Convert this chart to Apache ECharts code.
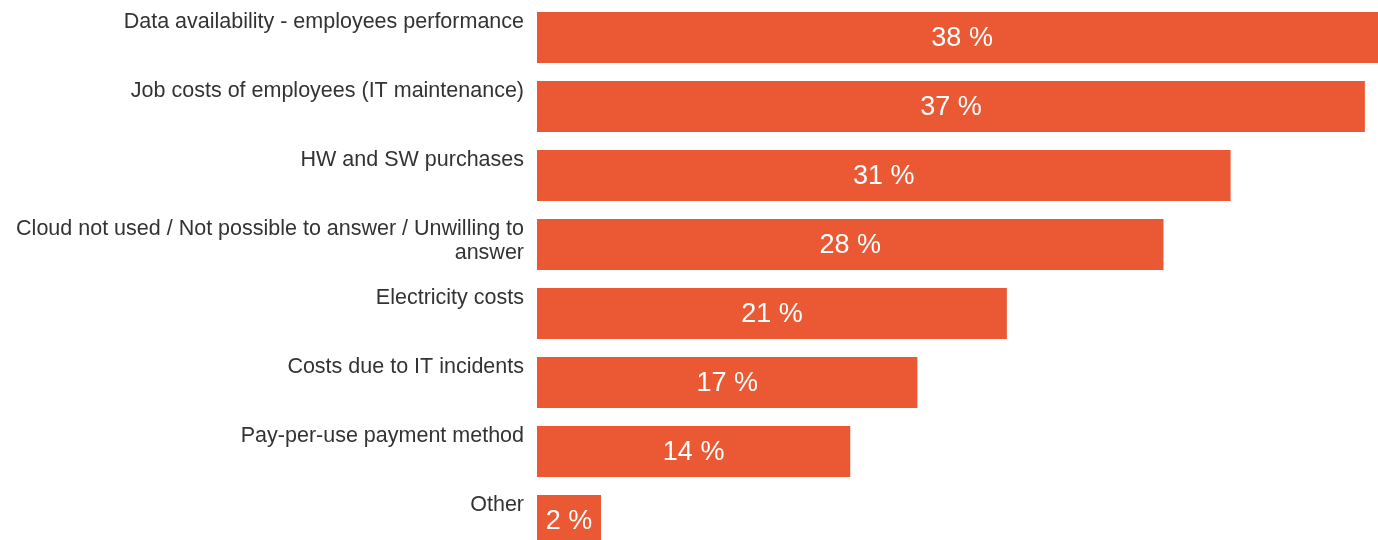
<!DOCTYPE html>
<html>
<head>
<meta charset="utf-8">
<style>
  html, body { margin: 0; padding: 0; background: #ffffff; overflow: hidden; }
  /* the drawing area runs past the window on the right and at the bottom */
  #chart { width: 1440px; height: 560px; }
</style>
<script src="https://cdn.jsdelivr.net/npm/echarts@6/dist/echarts.min.js"></script>
</head>
<body>
<div id="chart"></div>
<script>
// Survey answers, share of respondents (%)
const categories = [
  'Data availability - employees performance',
  'Job costs of employees (IT maintenance)',
  'HW and SW purchases',
  'Cloud not used / Not possible to answer / Unwilling to\nanswer',
  'Electricity costs',
  'Costs due to IT incidents',
  'Pay-per-use payment method',
  'Other'
];
const shares = [38, 37, 31, 28, 21, 17, 14, 2];

const BAR_COLOR = '#EA5834';
const TEXT_COLOR = '#333333';
const FONT = '"Liberation Sans", Arial, Helvetica, sans-serif';

const chart = echarts.init(document.getElementById('chart'), null, { renderer: 'canvas' });

chart.setOption({
  animation: false,
  backgroundColor: '#ffffff',
  grid: { left: 537, top: 3, width: 895, height: 552, containLabel: false },
  xAxis: {
    type: 'value',
    min: 0,
    max: 40,
    show: false
  },
  yAxis: {
    type: 'category',
    data: categories,
    inverse: true,
    axisLine: { show: false },
    axisTick: { show: false },
    axisLabel: { show: false },
    splitLine: { show: false }
  },
  series: [
    {
      // category names, anchored to the top-left corner of each bar
      name: 'names',
      type: 'bar',
      data: shares,
      barWidth: 51,
      barGap: '-100%',
      silent: true,
      clip: false,
      itemStyle: { color: 'rgba(0,0,0,0)' },
      label: {
        show: true,
        position: [-13, -2],
        align: 'right',
        verticalAlign: 'top',
        formatter: p => p.name,
        color: TEXT_COLOR,
        fontFamily: FONT,
        fontSize: 21.5,
        lineHeight: 24
      }
    },
    {
      name: 'share',
      type: 'bar',
      data: shares,
      barWidth: 51,
      barGap: '-100%',
      barMinHeight: 64,
      clip: false,
      itemStyle: { color: BAR_COLOR },
      label: {
        show: true,
        position: 'inside',
        offset: [0, 1],
        formatter: p => p.value + ' %',
        color: '#ffffff',
        fontFamily: FONT,
        fontSize: 27
      }
    }
  ]
});
</script>
</body>
</html>
